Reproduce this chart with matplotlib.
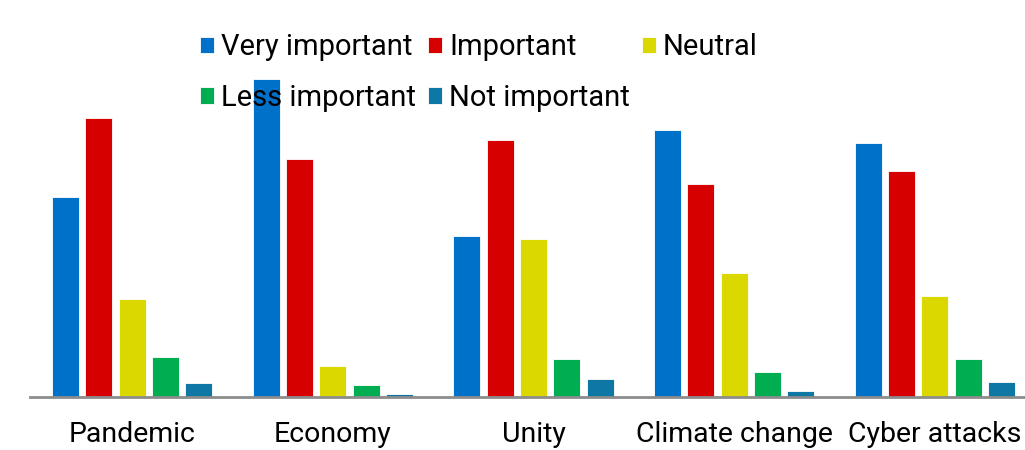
import numpy as np
import matplotlib
matplotlib.use('Agg')
import matplotlib.pyplot as plt

plt.rcParams['font.family'] = ['Roboto', 'DejaVu Sans']

# share of respondents (%) per challenge
categories = ['Pandemic', 'Economy', 'Unity', 'Climate change', 'Cyber attacks']
very_important = [31.6, 50.3, 25.5, 42.2, 40.2]
important = [44.1, 37.7, 40.7, 33.7, 35.8]
neutral = [15.5, 4.9, 25.0, 19.6, 16.0]
less_important = [6.3, 1.9, 6.0, 4.0, 6.0]
not_important = [2.2, 0.5, 2.8, 0.9, 2.4]

series = [
    ('Very important', very_important, '#0071C8'),
    ('Important', important, '#D70000'),
    ('Neutral', neutral, '#DBD800'),
    ('Less important', less_important, '#00AD50'),
    ('Not important', not_important, '#0F77A3'),
]

fig = plt.figure(figsize=(10.25, 4.5), dpi=100)
ax = fig.add_axes([30 / 1025, 53 / 450, 995 / 1025, 337 / 450])

x = np.arange(len(categories))
step = 0.166
width = 0.135
handles = {}
for i, (name, vals, color) in enumerate(series):
    b = ax.bar(x + (i - 2) * step, vals, width, color=color,
               edgecolor='white', linewidth=0.6, label=name, zorder=2)
    handles[name] = b

ax.set_xlim(-0.509, 4.449)
ax.set_ylim(0, 53.3)
ax.set_xticks(x)
ax.set_xticklabels(categories, fontsize=20.5)
ax.tick_params(axis='x', length=0, pad=17)
ax.set_yticks([])
for side in ['top', 'right', 'left']:
    ax.spines[side].set_visible(False)
ax.spines['bottom'].set_color('#8C8C8C')
ax.spines['bottom'].set_linewidth(2)

# row-major order like the original legend
order = ['Very important', 'Less important', 'Important', 'Not important', 'Neutral']
leg = fig.legend([handles[n] for n in order], order, loc='upper left',
                 bbox_to_anchor=(200 / 1025, 1 - 33 / 450), ncol=3, frameon=False,
                 fontsize=21, handlelength=0.48, handleheight=0.48,
                 handletextpad=0.25, columnspacing=0.4, labelspacing=0.78,
                 borderpad=0, borderaxespad=0)
leg.set_zorder(5)

fig.savefig('out.png', dpi=100)
